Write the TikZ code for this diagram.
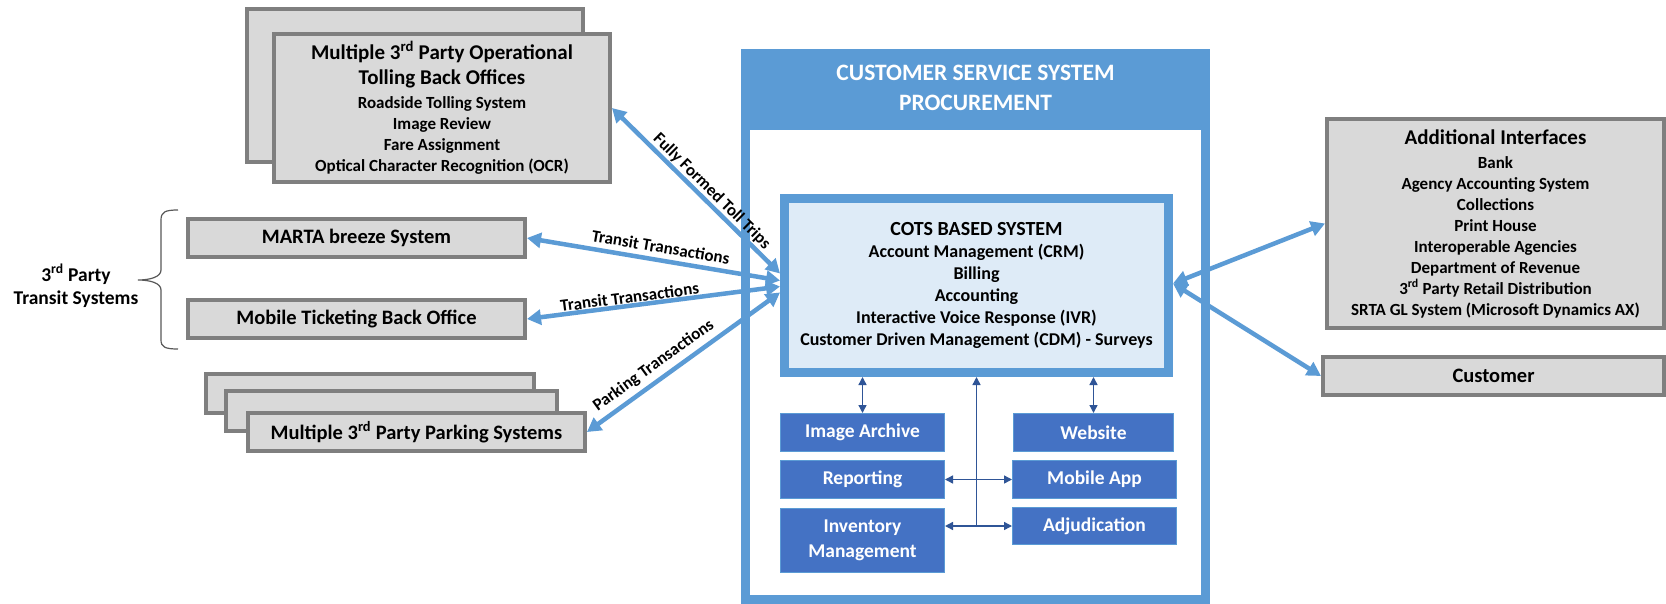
\documentclass[tikz,border=0pt]{standalone}
\usepackage{fontspec}
\setmainfont{Carlito}
\usetikzlibrary{arrows.meta}
\definecolor{lblue}{HTML}{5B9BD5}
\definecolor{dblue}{HTML}{2F5597}
\definecolor{bblue}{HTML}{4472C4}
\definecolor{cfill}{HTML}{DEEBF7}
\definecolor{gfill}{HTML}{D9D9D9}
\definecolor{gline}{HTML}{7F7F7F}
\definecolor{brc}{HTML}{595959}
\begin{document}
\begin{tikzpicture}[x=1pt,y=-1pt,
  graybox/.style={draw=gline, line width=4pt, fill=gfill, inner sep=0pt, align=center,
    font=\fontsize{20.5}{24}\selectfont\bfseries, text=black},
  listbox/.style={graybox, font=\fontsize{17}{21}\selectfont\bfseries},
  bluebox/.style={draw=lblue, line width=1pt, fill=bblue, inner sep=0pt, align=center,
    text=white, font=\fontsize{19.5}{25}\selectfont\bfseries},
  bigarrow/.style={draw=lblue, line width=4.5pt,
    {Triangle[length=14pt,width=15pt]}-{Triangle[length=14pt,width=15pt]}},
  smallarrow/.style={draw=dblue, line width=1.4pt,
    {Triangle[length=8pt,width=8pt]}-{Triangle[length=8pt,width=8pt]}},
  uparrow/.style={draw=dblue, line width=1.4pt, -{Triangle[length=8pt,width=8pt]}},
  arrowlabel/.style={sloped, above, font=\fontsize{17}{20}\selectfont\bfseries, text=black},
]
\fill[white] (0,0) rectangle (1666,604);
\useasboundingbox (0,0) rectangle (1666,604);

% central panel
\node[draw=lblue, line width=9pt, minimum width=460pt, minimum height=546pt, inner sep=0pt] (panel) at (975.5,326.5) {};
\fill[lblue] (panel.north west) rectangle ([yshift=-81pt]panel.north east);
\node[font=\fontsize{23.5}{30}\selectfont\bfseries, text=white, align=center] (header) at (975.5,88) {CUSTOMER SERVICE SYSTEM\\PROCUREMENT};

% COTS
\node[draw=lblue, line width=9pt, fill=cfill, minimum width=384pt, minimum height=174pt, inner sep=0pt,
  align=center, font=\fontsize{18}{22}\selectfont\bfseries] (cots) at (976.5,285.5)
  {{\fontsize{20}{22}\selectfont COTS BASED SYSTEM}\\Account Management (CRM)\\Billing\\Accounting\\Interactive Voice Response (IVR)\\Customer Driven Management (CDM) - Surveys};

% blue modules
\node[bluebox, minimum width=164pt, minimum height=38pt] (imgarch) at (862.5,432.5) {Image Archive};
\node[bluebox, minimum width=160pt, minimum height=38pt] (website) at (1093.5,432.5) {Website};
\node[bluebox, minimum width=164pt, minimum height=38pt] (reporting) at (862.5,479.5) {Reporting};
\node[bluebox, minimum width=164pt, minimum height=38pt] (mobileapp) at (1094.5,479.5) {Mobile App};
\node[bluebox, minimum width=164pt, minimum height=64pt] (inventory) at (862.5,540.5) {Inventory\\Management};
\node[bluebox, minimum width=164pt, minimum height=37pt] (adjud) at (1094.5,526) {Adjudication};

% small arrows
\draw[smallarrow] (imgarch.north) -- (imgarch.north |- cots.south);
\draw[smallarrow] (website.north) -- (website.north |- cots.south);
\draw[smallarrow] (reporting.east) -- (mobileapp.west);
\draw[smallarrow] (inventory.east |- adjud.west) -- (adjud.west);
\coordinate (junc) at (cots.south |- adjud.west);
\draw[uparrow] (junc) -- (cots.south);

% left gray boxes
\node[graybox, minimum width=336pt, minimum height=153pt] (tollback) at (415,85.5) {};
\node[listbox, minimum width=336pt, minimum height=148pt] (tollfront) at (442,108)
  {{\fontsize{21}{24}\selectfont Multiple 3\textsuperscript{rd} Party Operational}\\[4pt]{\fontsize{21}{24}\selectfont Tolling Back Offices}\\[3pt]Roadside Tolling System\\Image Review\\Fare Assignment\\Optical Character Recognition (OCR)};
\node[graybox, minimum width=337pt, minimum height=38pt] (marta) at (356.5,238) {MARTA breeze System};
\node[graybox, minimum width=337pt, minimum height=38pt] (mobile) at (356.5,319) {Mobile Ticketing Back Office};
\node[graybox, minimum width=328pt, minimum height=39pt] (park1) at (370,393.5) {};
\node[graybox, minimum width=331pt, minimum height=40pt] (park2) at (391.5,411) {};
\node[graybox, minimum width=337pt, minimum height=38pt] (park3) at (416.5,432) {Multiple 3\textsuperscript{rd} Party Parking Systems};

% brace and its label
\draw[brc, line width=1.2pt] (178,210) .. controls (165,210) and (161,212) .. (161,220) -- (161,270)
  .. controls (161,277) and (150,280) .. (138,280) .. controls (150,280) and (161,283) .. (161,290)
  -- (161,340) .. controls (161,347) and (165,349) .. (178,349);
\node[font=\fontsize{19.5}{23}\selectfont\bfseries, align=center] (tlabel) at (76,285.5) {3\textsuperscript{rd} Party\\Transit Systems};

% right gray boxes
\node[listbox, minimum width=337pt, minimum height=209pt] (addl) at (1495.5,223.5)
  {{\fontsize{21}{24}\selectfont Additional Interfaces}\\[3pt]Bank\\Agency Accounting System\\Collections\\Print House\\Interoperable Agencies\\Department of Revenue\\3\textsuperscript{rd} Party Retail Distribution\\SRTA GL System (Microsoft Dynamics AX)};
\node[graybox, minimum width=341pt, minimum height=38pt] (customer) at (1493.5,376) {Customer};

% big arrows
\draw[bigarrow] (tollfront.east) -- node[arrowlabel, pos=0.55, inner sep=1pt] {Fully Formed Toll Trips} ([yshift=12pt]cots.west);
\draw[bigarrow] (marta.east) -- node[arrowlabel, pos=0.52, inner sep=5pt] {Transit Transactions} ([yshift=5pt]cots.west);
\draw[bigarrow] (mobile.east) -- node[arrowlabel, pos=0.41, inner sep=0.5pt] {Transit Transactions} ([yshift=-1pt]cots.west);
\draw[bigarrow] (park3.east) -- node[arrowlabel, pos=0.39, inner sep=5pt] {Parking Transactions} ([yshift=-7pt]cots.west);
\draw[bigarrow] ([yshift=2pt]cots.east) -- (addl.west);
\draw[bigarrow] ([yshift=2pt]cots.east) -- (customer.west);
\end{tikzpicture}
\end{document}
